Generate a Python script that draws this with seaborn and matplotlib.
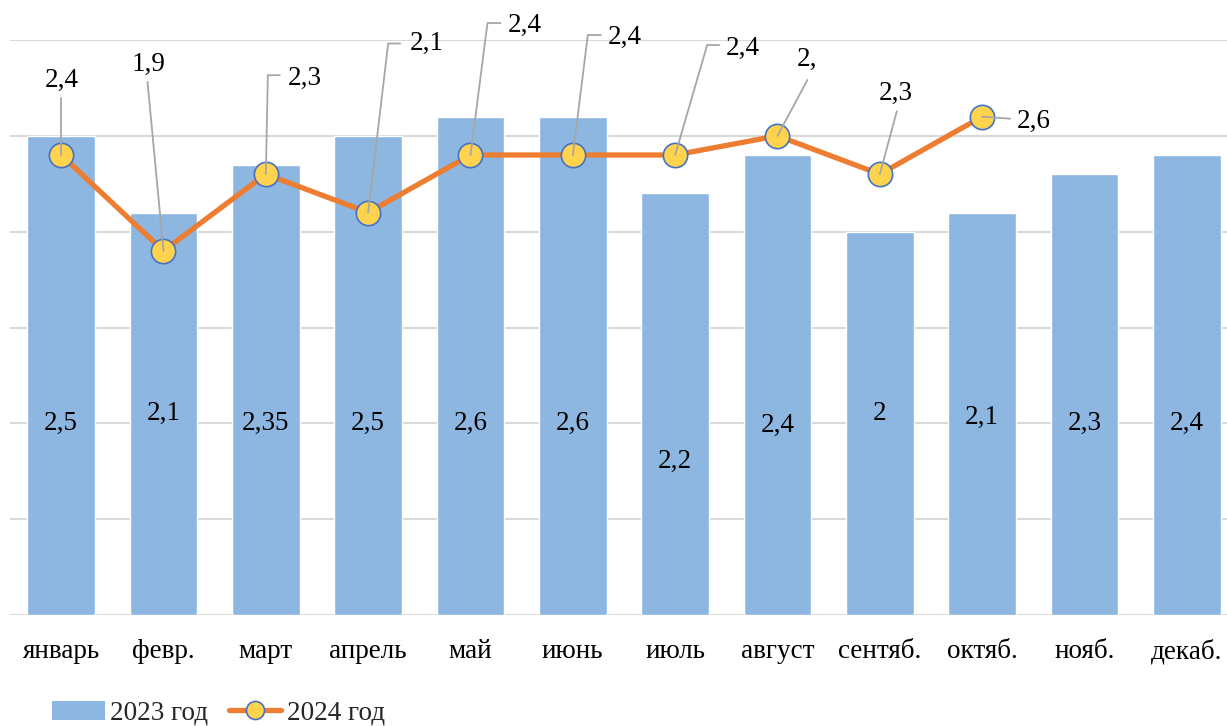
import numpy as np
import pandas as pd
import matplotlib
matplotlib.use('Agg')
import matplotlib.pyplot as plt
import matplotlib.transforms as mtrans
from matplotlib.patches import Patch
from matplotlib.lines import Line2D
import seaborn as sns

months      = ['январь', 'февр.', 'март', 'апрель', 'май', 'июнь',
               'июль', 'август', 'сентяб.', 'октяб.', 'нояб.', 'декаб.']
vals_2023   = [2.5, 2.1, 2.35, 2.5, 2.6, 2.6, 2.2, 2.4, 2.0, 2.1, 2.3, 2.4]
vals_2024   = [2.4, 1.9, 2.3, 2.1, 2.4, 2.4, 2.4, 2.5, 2.3, 2.6]
labels_2024 = ['2,4', '1,9', '2,3', '2,1', '2,4', '2,4', '2,4', '2,', '2,3', '2,6']
series      = ['2023 год', '2024 год']

# layout: where the bar labels sit (value units) and the callouts (pixel offsets)
BAR_LABEL_Y = [1.0, 1.05, 1.0, 1.0, 1.0, 1.0, 0.8, 0.99, 1.05, 1.03, 1.0, 1.0]
CALLOUTS = [
    ((1, 75),   [(0, 57), (0, 0)]),
    ((-15, 186), [(-16, 169), (0, 0)]),
    ((39, 96),  [(14, 99), (2, 99), (0, 0)]),
    ((59, 169), [(32, 169), (20, 169), (0, 0)]),
    ((54, 130), [(30, 132), (17, 132), (0, 0)]),
    ((52, 118), [(28, 120), (15, 120), (0, 0)]),
    ((68, 107), [(44, 110), (32, 110), (0, 0)]),
    ((30, 76),  [(30, 56), (0, 0)]),
    ((16, 81),  [(17, 63), (0, 0)]),
    ((52, -5),  [(28, -2), (0, 0)]),
]

BAR_C   = '#8DB6E1'
LINE_C  = '#ED7D31'
MARK_C  = '#FFD34D'
EDGE_C  = '#4472C4'
GRID_C  = '#D9D9D9'
LEAD_C  = '#A6A6A6'

sns.set_theme(style='white')
plt.rcParams['font.family'] = ['Liberation Serif', 'DejaVu Serif']
FS = 19.5

df23 = pd.DataFrame({'month': months, 'value': vals_2023})
df24 = pd.DataFrame({'pos': np.arange(len(vals_2024)), 'value': vals_2024})

fig = plt.figure(figsize=(12.27, 7.26), dpi=100)
ax = fig.add_axes([10 / 1227, 111 / 726, 1228 / 1227, 575 / 726])

sns.barplot(data=df23, x='month', y='value', color=BAR_C, saturation=1,
            width=0.66, ax=ax, zorder=2)
sns.lineplot(data=df24, x='pos', y='value', color=LINE_C, lw=3.8, ax=ax,
             zorder=3, marker='o', markersize=17.5, markerfacecolor=MARK_C,
             markeredgecolor=EDGE_C, markeredgewidth=1.2)

ax.set_ylim(0, 3)
ax.set_xlim(-0.5, 11.5)
ax.set_yticks(np.arange(0, 3.01, 0.5))
ax.yaxis.grid(True, color=GRID_C, lw=1.5, zorder=0)
ax.set_axisbelow(True)
ax.tick_params(axis='y', left=False, labelleft=False)
ax.tick_params(axis='x', bottom=False, labelsize=FS, pad=11, colors='black')
ax.set_xlabel('')
ax.set_ylabel('')
for s in ax.spines.values():
    s.set_visible(False)

for i, v in enumerate(vals_2023):
    ax.text(i, BAR_LABEL_Y[i], f'{v:g}'.replace('.', ','), ha='center',
            va='center', fontsize=FS, color='black', zorder=4)

for i, (v, txt) in enumerate(zip(vals_2024, labels_2024)):
    (lx, ly), path = CALLOUTS[i]
    xs, ys = [], []
    for dx, dy in path:
        tr = mtrans.offset_copy(ax.transData, fig=fig, x=dx, y=dy, units='dots')
        px, py = tr.transform((i, v))
        xs.append(px)
        ys.append(py)
    ax.add_line(Line2D(xs, ys, transform=None, color=LEAD_C, lw=1.3,
                       zorder=5, clip_on=False))
    ax.annotate(txt, xy=(i, v), xytext=(lx, ly), textcoords='offset pixels',
                ha='center', va='center', fontsize=FS, color='black',
                annotation_clip=False, zorder=6)

handles = [Patch(facecolor=BAR_C, edgecolor='none'),
           Line2D([0], [0], color=LINE_C, lw=3.8, marker='o', markersize=13,
                  markerfacecolor=MARK_C, markeredgecolor=EDGE_C,
                  markeredgewidth=1.2)]
fig.legend(handles, series, loc='center left', bbox_to_anchor=(41 / 1227, 13 / 726),
           ncol=2, frameon=False, fontsize=FS, handlelength=1.95,
           handletextpad=0.2, columnspacing=0.75, borderaxespad=0)

fig.savefig('out.png', dpi=100)
